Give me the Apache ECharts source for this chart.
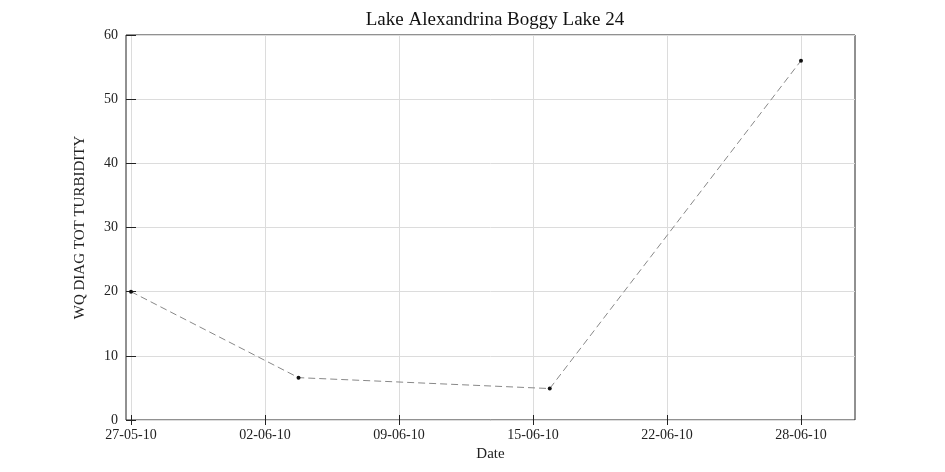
<!DOCTYPE html>
<html><head><meta charset="utf-8">
<script src="https://cdn.jsdelivr.net/npm/echarts@6/dist/echarts.min.js"></script>
<style>html,body{margin:0;padding:0;background:#fff}#c{width:945px;height:472px}</style>
</head><body><div id="c"></div>
<script>
const dates = ['2010-05-27','2010-06-04','2010-06-16','2010-06-28'];
const values = [20, 6.6, 4.9, 56];
const tickLabels = ['27-05-10','02-06-10','09-06-10','15-06-10','22-06-10','28-06-10'];
const yTicks = [0,10,20,30,40,50,60];

const DAY = 86400000;
const t0 = Date.UTC(2010,4,27);
const toDay = s => (Date.parse(s+'T00:00:00Z') - t0) / DAY;
const tickVals = tickLabels.map((l,i)=> i*32/(tickLabels.length-1));
const data = dates.map((d,i)=>[toDay(d), values[i]]);
const font = 'Liberation Serif';
const gridCol = '#dcdcdc';
const xBase = {type:'value', min:-0.24, max:34.58,
  axisLine:{show:false},
  axisTick:{inside:true, length:5, lineStyle:{color:'#222'}, customValues:tickVals},
  splitLine:{show:false}};
const yBase = {type:'value', min:0, max:60, interval:10,
  axisLine:{show:false},
  axisTick:{inside:true, length:5, lineStyle:{color:'#222'}},
  splitLine:{show:false}};
const chart = echarts.init(document.getElementById('c'));
chart.setOption({
  animation:false,
  title:{text:'Lake Alexandrina Boggy Lake 24', left:490, top:6, textAlign:'center',
    textStyle:{fontFamily:font, fontSize:19, fontWeight:'normal', color:'#111'}},
  grid:{left:126, right:90, top:35, bottom:52, show:true, borderColor:'#222', borderWidth:1},
  xAxis:[
    Object.assign({}, xBase, {position:'bottom', name:'Date', nameLocation:'middle', nameGap:23,
      nameTextStyle:{fontFamily:font, fontSize:15, color:'#222'},
      splitLine:{show:true, lineStyle:{color:gridCol}},
      axisLabel:{customValues:tickVals, fontFamily:font, fontSize:14, color:'#222', margin:8,
        formatter:v=>{const i=tickVals.findIndex(t=>Math.abs(t-v)<1e-6); return i>=0?tickLabels[i]:'';}}}),
    Object.assign({}, xBase, {position:'top', axisLabel:{show:false}})
  ],
  yAxis:[
    Object.assign({}, yBase, {position:'left', name:'WQ DIAG TOT TURBIDITY', nameLocation:'middle', nameGap:38,
      nameTextStyle:{fontFamily:font, fontSize:15, color:'#222'},
      splitLine:{show:true, lineStyle:{color:gridCol}},
      axisLabel:{fontFamily:font, fontSize:14, color:'#222', margin:8}}),
    Object.assign({}, yBase, {position:'right', axisLabel:{show:false}})
  ],
  series:[{type:'line', data:data, symbol:'circle', symbolSize:4,
    itemStyle:{color:'#111'},
    lineStyle:{color:'#888', width:1, type:[7,4]}}]
});
</script></body></html>
